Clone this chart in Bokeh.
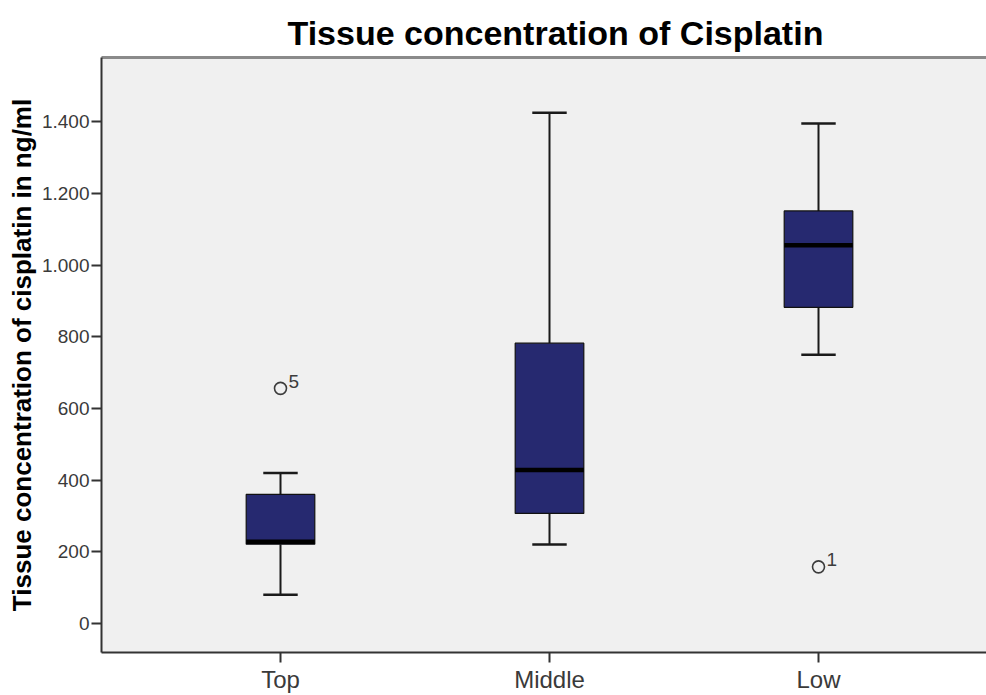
from bokeh.plotting import figure
from bokeh.models import Range1d, FixedTicker, LinearAxis, ColumnDataSource
from bokeh.core.properties import value
from bokeh.embed import file_html
from bokeh.resources import INLINE

# ---- data ----
categories = ["Top", "Middle", "Low"]
lower_whisker = [80, 220, 750]
q1 = [221, 307, 882]
median = [228, 428, 1055]
q3 = [360, 782, 1151]
upper_whisker = [420, 1425, 1395]
outlier_category = ["Top", "Low"]
outlier_value = [656, 158]
outlier_case = ["5", "1"]
y_ticks = [0, 200, 400, 600, 800, 1000, 1200, 1400]
y_tick_labels = ["0", "200", "400", "600", "800", "1.000", "1.200", "1.400"]

# ---- styles ----
FONT = "Liberation Sans"
BOX_W = 0.255
CAP_W = 0.128

xs = list(range(len(categories)))
src = ColumnDataSource(dict(
    x=xs, left=[x - BOX_W / 2 for x in xs], right=[x + BOX_W / 2 for x in xs],
    cl=[x - CAP_W / 2 for x in xs], cr=[x + CAP_W / 2 for x in xs],
    lw=lower_whisker, q1=q1, med=median, q3=q3, uw=upper_whisker,
))
osrc = ColumnDataSource(dict(
    x=[categories.index(c) for c in outlier_category],
    y=outlier_value, t=outlier_case,
))

p = figure(width=986, height=695, output_backend="svg", toolbar_location=None,
           x_range=Range1d(-0.6654, 2.6245), y_range=Range1d(-81, 1579),
           min_border_left=101, min_border_right=0, min_border_top=57,
           min_border_bottom=43,
           background_fill_color="#F0F0F0", border_fill_color="white",
           outline_line_color=None)

p.title.text = "Tissue concentration of Cisplatin"
p.title.text_font = FONT
p.title.text_font_size = "34px"
p.title.text_font_style = "bold"
p.title.text_color = "black"
p.title.align = "left"
p.title.offset = 186
p.title.standoff = 12

p.xgrid.visible = False
p.ygrid.visible = False

# whiskers
p.segment(x0="x", y0="lw", x1="x", y1="q1", source=src, line_color="#1a1a1a", line_width=2)
p.segment(x0="x", y0="q3", x1="x", y1="uw", source=src, line_color="#1a1a1a", line_width=2)
p.segment(x0="cl", y0="lw", x1="cr", y1="lw", source=src, line_color="#1a1a1a", line_width=2.5)
p.segment(x0="cl", y0="uw", x1="cr", y1="uw", source=src, line_color="#1a1a1a", line_width=2.5)
# boxes
p.quad(left="left", right="right", bottom="q1", top="q3", source=src,
       fill_color="#262970", line_color="#111111", line_width=1.2)
# medians
p.segment(x0="left", y0="med", x1="right", y1="med", source=src,
          line_color="black", line_width=4.5)
# outliers
p.scatter(x="x", y="y", source=osrc, marker="circle", size=12,
          fill_color=None, line_color="#3c3c3c", line_width=1.6)
p.text(x="x", y="y", text="t", source=osrc, x_offset=8, y_offset=-7,
       text_font=value(FONT), text_font_size="19px", text_color="#3c3c3c",
       text_baseline="alphabetic", text_align="left")

# y axis
ya = p.yaxis[0]
ya.ticker = FixedTicker(ticks=y_ticks)
ya.major_label_overrides = {t: l for t, l in zip(y_ticks, y_tick_labels)}
ya.minor_tick_line_color = None
ya.major_tick_in = 0
ya.major_tick_out = 10
ya.major_tick_line_width = 2
ya.major_tick_line_color = "#333333"
ya.axis_line_color = "#333333"
ya.axis_line_width = 2
ya.major_label_text_font = FONT
ya.major_label_text_font_size = "19px"
ya.major_label_text_color = "#3a3a3a"
ya.major_label_standoff = 2
ya.axis_label = "Tissue concentration of cisplatin in ng/ml"
ya.axis_label_text_font = FONT
ya.axis_label_text_font_size = "26px"
ya.axis_label_text_font_style = "bold"
ya.axis_label_text_color = "black"
ya.axis_label_standoff = 2

# x axis
xa = p.xaxis[0]
xa.ticker = FixedTicker(ticks=xs)
xa.major_label_overrides = {x: c for x, c in zip(xs, categories)}
xa.minor_tick_line_color = None
xa.major_tick_in = 0
xa.major_tick_out = 10
xa.major_tick_line_width = 2
xa.major_tick_line_color = "#333333"
xa.axis_line_color = "#333333"
xa.axis_line_width = 2
xa.major_label_text_font = FONT
xa.major_label_text_font_size = "24px"
xa.major_label_text_color = "#3a3a3a"
xa.major_label_standoff = 3

# top border of the frame
top = LinearAxis(ticker=FixedTicker(ticks=[]), axis_line_color="#8a8a8a",
                 axis_line_width=3, major_tick_line_color=None,
                 minor_tick_line_color=None, major_label_text_font_size="0px",
                 major_label_standoff=0)
p.add_layout(top, "above")

open("out.html", "w").write(file_html(p, INLINE))
